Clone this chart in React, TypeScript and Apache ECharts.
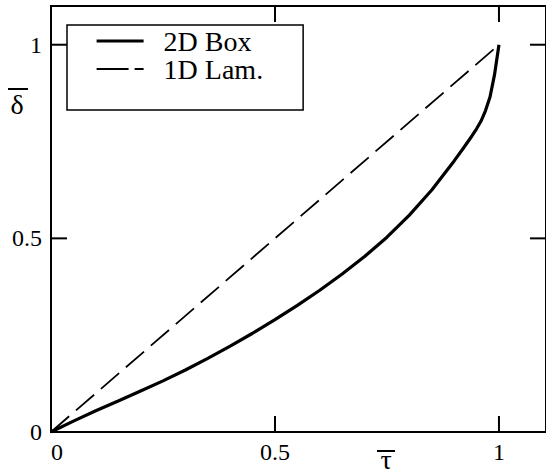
import React, { useEffect, useRef } from "react";
import * as echarts from "echarts";

const tauValues = [0, 0.05, 0.1, 0.15, 0.2, 0.25, 0.3, 0.35, 0.4, 0.45, 0.5, 0.55, 0.6, 0.65, 0.7, 0.75, 0.8, 0.85, 0.9, 0.92, 0.94, 0.95, 0.96, 0.97, 0.98, 0.99, 1.0];
const box2D = [0, 0.028, 0.055, 0.08, 0.106, 0.132, 0.16, 0.19, 0.222, 0.255, 0.29, 0.327, 0.366, 0.408, 0.453, 0.503, 0.56, 0.625, 0.7, 0.732, 0.765, 0.783, 0.803, 0.83, 0.865, 0.922, 1.0];
const lamTau = [0, 1];
const lam1D = [0, 1];
const seriesNames = ["2D Box", "1D Lam."];
const tickValues = [0, 0.5, 1];
const tickLabels = ["0", "0.5", "1"];
const X_MAX = 1.105;
const Y_MAX = 1.1;

const FONT = "Liberation Serif";

export default function App() {
  const ref = useRef<HTMLDivElement>(null);
  useEffect(() => {
    document.body.style.margin = "0";
    const chart = echarts.init(ref.current!, null, { renderer: "svg" });
    const fmt = (v: number) => {
      const i = tickValues.findIndex((t) => Math.abs(t - v) < 1e-6);
      return i >= 0 ? tickLabels[i] : "";
    };
    const mkLabel = (margin: number) => ({
      formatter: fmt, customValues: tickValues.slice(), color: "#000", fontFamily: FONT, fontSize: 24, margin,
    });
    const labelGraphics = [
      { type: "text", x: 386, y: 473, style: { text: "τ", font: `28px ${FONT}`, fill: "#000", align: "center", verticalAlign: "bottom" } },
      { type: "line", shape: { x1: 377, y1: 451, x2: 395, y2: 451 }, style: { stroke: "#000", lineWidth: 2 } },
      { type: "text", x: 17, y: 104, style: { text: "δ", font: `28px ${FONT}`, fill: "#000", align: "center", verticalAlign: "middle" } },
      { type: "line", shape: { x1: 8, y1: 89, x2: 28, y2: 89 }, style: { stroke: "#000", lineWidth: 2 } },
    ];
    chart.setOption({
      animation: false,
      backgroundColor: "#fff",
      grid: { left: 51, top: 6, width: 497, height: 426, containLabel: false, show: true, borderColor: "#000", borderWidth: 2, backgroundColor: "transparent" },
      xAxis: {
        type: "value", min: 0, max: X_MAX, interval: 0.5, splitLine: { show: false },
        axisLine: { show: false }, axisTick: { show: false },
        axisLabel: { ...mkLabel(8), alignMinLabel: "left" },
      },
      yAxis: {
        type: "value", min: 0, max: Y_MAX, interval: 0.5, splitLine: { show: false },
        axisLine: { show: false }, axisTick: { show: false },
        axisLabel: mkLabel(9),
      },
      legend: {
        left: 67, top: 25, orient: "vertical", itemWidth: 47, itemHeight: 1, itemGap: 0,
        padding: [2, 40, 27, 28], borderColor: "#000", borderWidth: 1.5, borderRadius: 0, backgroundColor: "#fff",
        textStyle: { fontFamily: FONT, fontSize: 28, lineHeight: 27, color: "#000", padding: [0, 0, 0, 15] },
        data: [
          { name: seriesNames[0], lineStyle: { width: 3.2 } },
          { name: seriesNames[1], lineStyle: { type: [32, 6], width: 1.8 } },
        ],
      },
      series: [
        {
          name: seriesNames[0], type: "line", showSymbol: false, symbol: "none",
          smooth: false, itemStyle: { color: "#000" },
          lineStyle: { color: "#000", width: 3.2 },
          data: tauValues.map((t, i) => [t, box2D[i]]),
        },
        {
          name: seriesNames[1], type: "line", showSymbol: false, symbol: "none",
          itemStyle: { color: "#000" },
          lineStyle: { color: "#000", width: 1.8, type: [24, 9] },
          data: lamTau.map((t, i) => [t, lam1D[i]]),
        },
      ],
      graphic: labelGraphics,
    });
    // inward ticks on all four sides, placed through the chart's own scales
    const px = (v: number) => chart.convertToPixel({ xAxisIndex: 0 }, v) as number;
    const py = (v: number) => chart.convertToPixel({ yAxisIndex: 0 }, v) as number;
    const xL = px(0), xR = px(X_MAX), yB = py(0), yT = py(Y_MAX);
    const L = 16;
    const tickStyle = { stroke: "#000", lineWidth: 2 };
    const ticks: any[] = [];
    tickValues.filter((v) => v > 0).forEach((v) => {
      const x = px(v);
      const y = py(v);
      ticks.push({ type: "line", shape: { x1: x, y1: yB, x2: x, y2: yB - L }, style: tickStyle });
      ticks.push({ type: "line", shape: { x1: x, y1: yT, x2: x, y2: yT + L }, style: tickStyle });
      ticks.push({ type: "line", shape: { x1: xL, y1: y, x2: xL + L, y2: y }, style: tickStyle });
      ticks.push({ type: "line", shape: { x1: xR, y1: y, x2: xR - L, y2: y }, style: tickStyle });
    });
    chart.setOption({ graphic: [...labelGraphics, ...ticks] });
    return () => chart.dispose();
  }, []);
  return <div ref={ref} style={{ width: 546, height: 474 }} />;
}
